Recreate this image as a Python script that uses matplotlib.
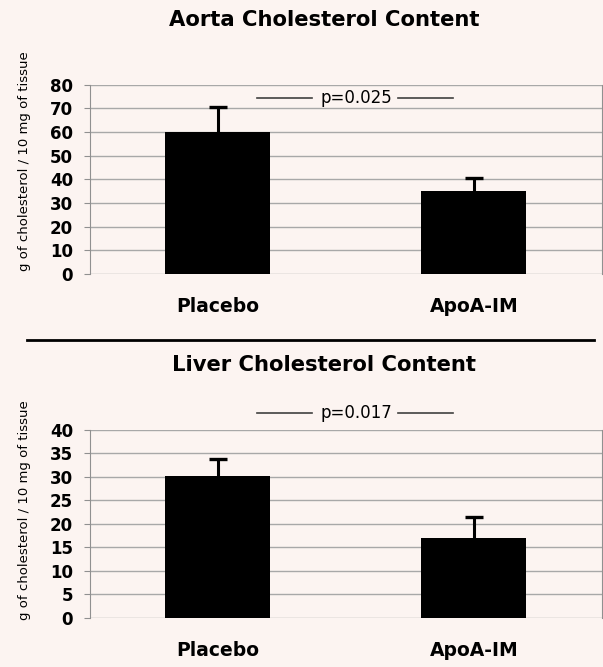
import matplotlib.pyplot as plt
import numpy as np

groups = ['Placebo', 'ApoA-IM']
aorta = [60, 35]
aorta_err = [10.5, 5.5]
liver = [30.2, 17.0]
liver_err = [3.7, 4.5]
titles = ['Aorta Cholesterol Content', 'Liver Cholesterol Content']
pvals = ['p=0.025', 'p=0.017']
ylab = 'g of cholesterol / 10 mg of tissue'

bg = '#fcf4f1'
fig = plt.figure(figsize=(6.03, 6.67), dpi=100, facecolor=bg)

def panel(rect, vals, errs, ymax, step, title, ptxt, ty, py, ylab_y, cat_y):
    ax = fig.add_axes(rect, facecolor=bg)
    x = np.arange(len(groups))
    tops = np.array(vals) + np.array(errs)
    ax.bar(x, vals, width=0.41, color='black', zorder=3)
    # upper error bars only
    ax.vlines(x, vals, tops, color='black', lw=2.2, zorder=4)
    ax.hlines(tops, x - 0.035, x + 0.035, color='black', lw=2.4, zorder=4)
    ax.set_xlim(-0.5, 1.5)
    ax.set_ylim(0, ymax)
    ax.set_yticks(np.arange(0, ymax + 1, step))
    ax.set_yticklabels(['%d' % v for v in np.arange(0, ymax + 1, step)],
                       fontsize=12, fontweight='bold')
    ax.grid(axis='y', color='#a8a8a8', linewidth=1, zorder=0)
    ax.set_xticks([])
    for s in ['top', 'bottom']:
        ax.spines[s].set_visible(False)
    ax.spines['left'].set_color('#909090')
    ax.spines['right'].set_color('#909090')
    ax.tick_params(axis='y', length=4, color='#909090', pad=8)
    for i, g in enumerate(groups):
        fig.text((rect[0] + rect[2] * (0.25 + 0.5 * i)), cat_y, g,
                 ha='center', va='center', fontsize=13.5, fontweight='bold')
    fig.text(0.537, ty, title, ha='center', va='center', fontsize=15.2, fontweight='bold')
    fig.text(356 / 603, py, ptxt, ha='center', va='center', fontsize=12)
    fig.add_artist(plt.Line2D([257 / 603, 312 / 603], [py, py], color='#404040', lw=1.2))
    fig.add_artist(plt.Line2D([398 / 603, 453 / 603], [py, py], color='#404040', lw=1.2))
    fig.text(25 / 603, ylab_y, ylab, rotation=90, ha='center', va='center', fontsize=9.5)
    return ax

panel([0.149, 0.589, 0.849, 0.284], aorta, aorta_err, 80, 10, titles[0], pvals[0],
      1 - 20 / 667, 1 - 98 / 667, 1 - 161 / 667, 1 - 307 / 667)
panel([0.149, 0.0735, 0.849, 0.282], liver, liver_err, 40, 5, titles[1], pvals[1],
      1 - 365 / 667, 1 - 413 / 667, 1 - 510 / 667, 1 - 651 / 667)

fig.add_artist(plt.Line2D([27 / 603, 594 / 603], [1 - 340 / 667, 1 - 340 / 667],
                          color='black', lw=2))

plt.savefig('out.png', dpi=100, facecolor=bg)
